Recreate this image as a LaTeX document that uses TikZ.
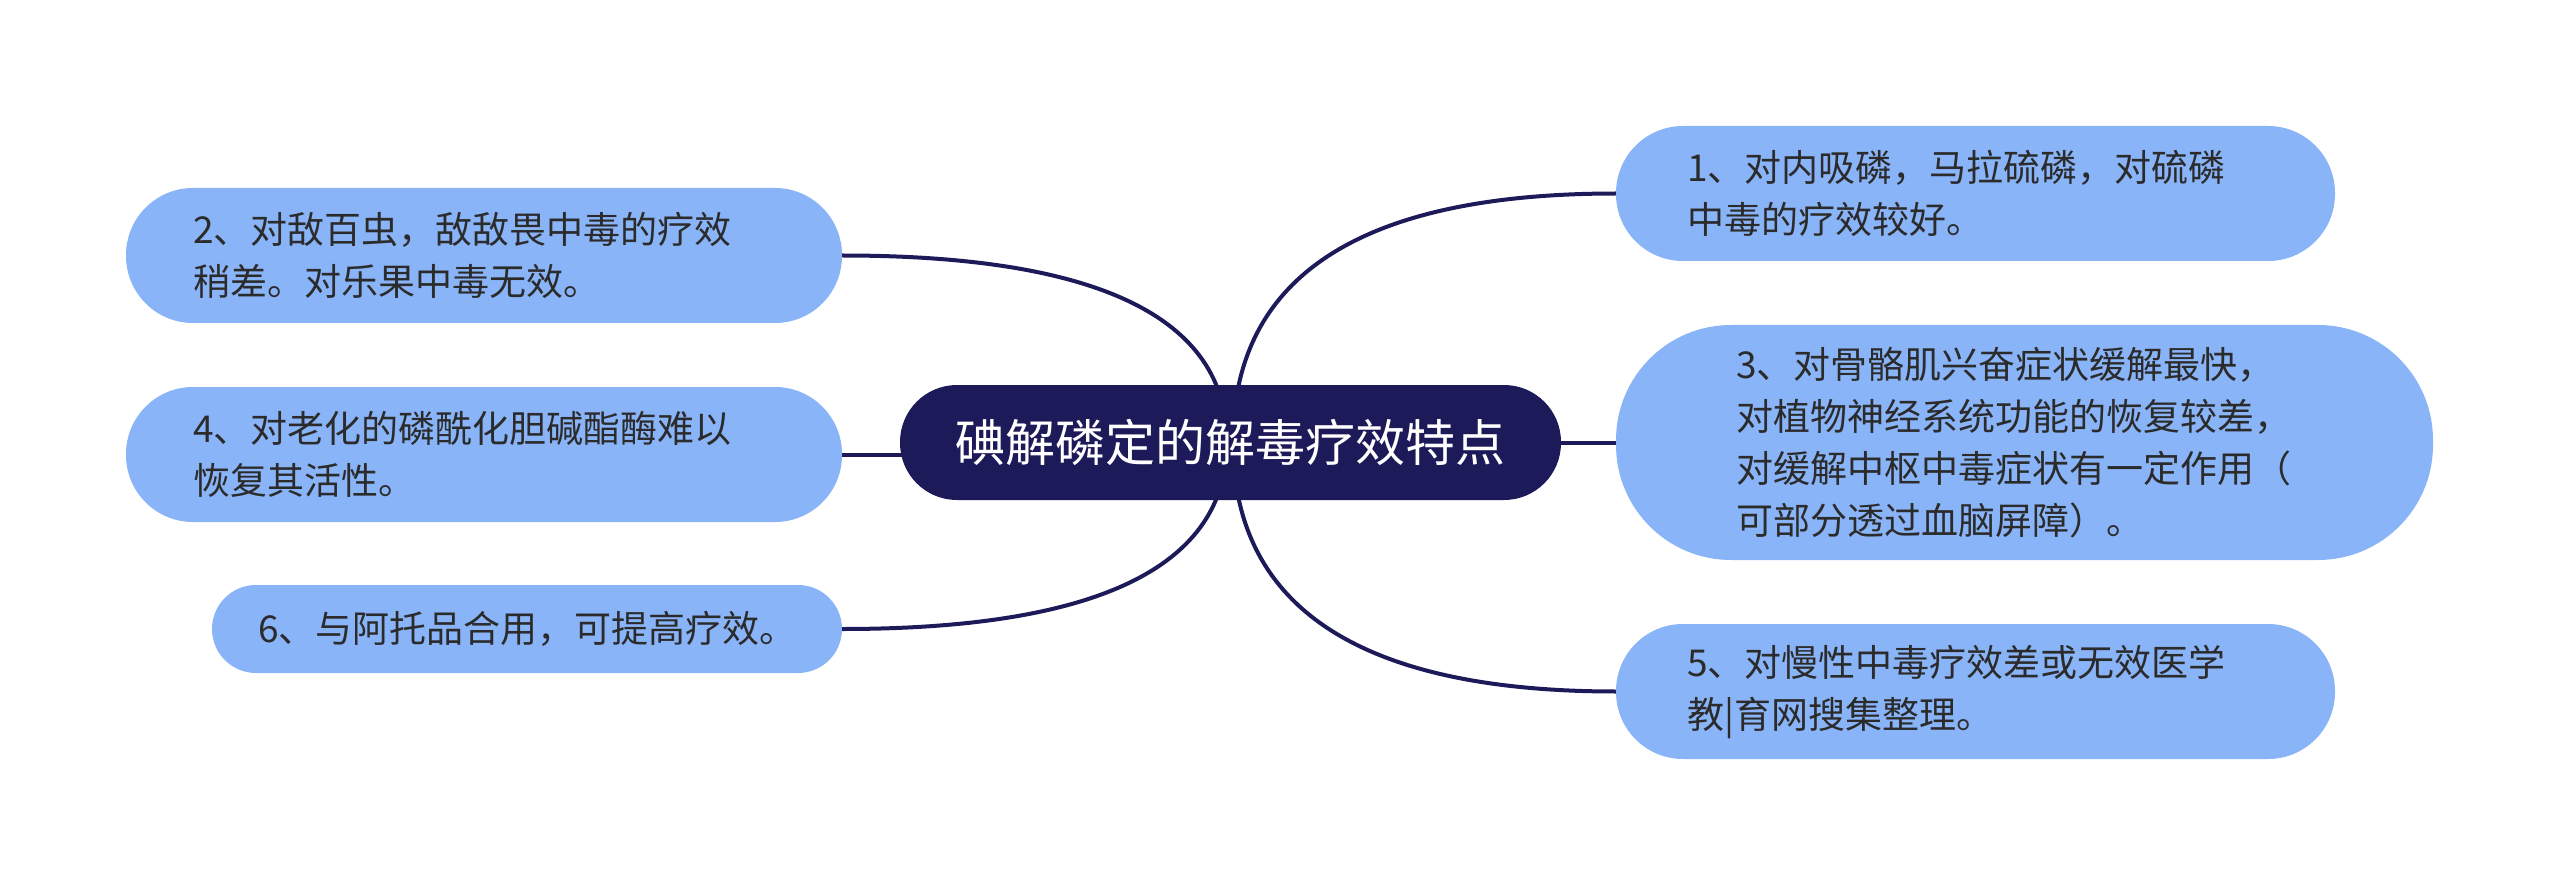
\documentclass[tikz,border=0pt]{standalone}
\usepackage{fontspec}
\newfontfamily\cjk{Noto Sans CJK SC}
\usetikzlibrary{backgrounds}
\definecolor{navy}{HTML}{1D1A59}
\definecolor{leafblue}{HTML}{8AB4F8}
\definecolor{leaftext}{HTML}{2B2B2B}
\begin{document}
\begin{tikzpicture}[x=1pt,y=-1pt,
  central/.style={fill=navy,draw=none,rounded corners=57pt,minimum width=661pt,minimum height=115pt,inner sep=0pt,text=white,font=\cjk\fontsize{50}{60}\selectfont},
  leaf/.style={fill=leafblue,draw=none,inner sep=0pt,text=leaftext,align=left,font=\cjk\fontsize{37}{52}\selectfont},
  conn/.style={draw=navy,line width=4pt}]
\useasboundingbox (0,0) rectangle (2560,885);
\node[central] (c) at (1230.5,442.5) {碘解磷定的解毒疗效特点};
\node[leaf,text width=577pt,rounded corners=67pt,minimum width=719pt,minimum height=135pt] (n1) at (1975.5,193.5) {1、对内吸磷，马拉硫磷，对硫磷\\中毒的疗效较好。};
\node[leaf,text width=577pt,rounded corners=115pt,minimum width=817pt,minimum height=235pt] (n3) at (2024.5,442.5) {3、对骨骼肌兴奋症状缓解最快，\\对植物神经系统功能的恢复较差，\\对缓解中枢中毒症状有一定作用（\\可部分透过血脑屏障）。};
\node[leaf,text width=577pt,rounded corners=67pt,minimum width=719pt,minimum height=135pt] (n5) at (1975.5,691.5) {5、对慢性中毒疗效差或无效医学\\教|育网搜集整理。};
\node[leaf,text width=582pt,rounded corners=67pt,minimum width=716pt,minimum height=135pt] (n2) at (484,255.5) {2、对敌百虫，敌敌畏中毒的疗效\\稍差。对乐果中毒无效。};
\node[leaf,text width=582pt,rounded corners=67pt,minimum width=716pt,minimum height=135pt] (n4) at (484,454.5) {4、对老化的磷酰化胆碱酯酶难以\\恢复其活性。};
\node[leaf,text width=538pt,rounded corners=44pt,minimum width=630pt,minimum height=88pt] (n6) at (527,629) {6、与阿托品合用，可提高疗效。};
\coordinate (cr) at (1233,442);
\coordinate (cl) at (1227,442);
\begin{pgfonlayer}{background}
\draw[conn] (cr) .. controls (1233,276) and (1361,193.5) .. (n1.west);
\draw[conn] (c.east) -- (n3.west);
\draw[conn] (cr) .. controls (1233,608) and (1361,691.5) .. (n5.west);
\draw[conn] (cl) .. controls (1227,318) and (1099,255.5) .. (n2.east);
\draw[conn] (n4.east) -- (c.center |- n4.east);
\draw[conn] (cl) .. controls (1227,566) and (1099,629) .. (n6.east);
\end{pgfonlayer}
\end{tikzpicture}
\end{document}
